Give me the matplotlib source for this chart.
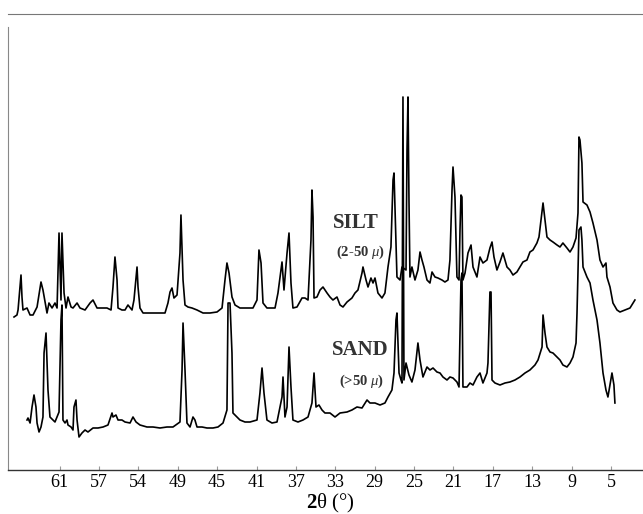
import matplotlib
matplotlib.use("Agg")
import matplotlib.pyplot as plt

plt.rcParams['font.family'] = ['Liberation Serif', 'DejaVu Serif']
plt.rcParams['mathtext.fontset'] = 'custom'
plt.rcParams['mathtext.rm'] = 'Liberation Serif'
plt.rcParams['mathtext.it'] = 'Liberation Serif:italic'
plt.rcParams['mathtext.bf'] = 'Liberation Serif:bold'

### DATA (intensity in arbitrary units)
tick_pos = [61, 57, 53, 49, 45, 41, 37, 33, 29, 25, 21, 17, 13, 9, 5]
tick_labels = ["61", "57", "54", "49", "45", "41", "37", "33", "29", "25", "21", "17", "13", "9", "5"]

silt_2theta = [
    65.62, 65.32, 65.21, 64.91, 64.81, 64.71, 64.30, 63.99, 63.69, 63.28,
    62.88, 62.68, 62.47, 62.27, 62.07, 61.76, 61.46, 61.25, 61.05, 60.85,
    60.75, 60.54, 60.34, 60.14, 59.83, 59.63, 59.22, 58.92, 58.41, 57.90,
    57.60, 57.19, 56.69, 56.18, 55.77, 55.57, 55.37, 55.16, 55.06, 54.66,
    54.35, 54.05, 53.64, 53.44, 53.13, 53.03, 52.83, 52.52, 52.02, 51.10,
    50.29, 49.99, 49.78, 49.58, 49.38, 49.07, 48.77, 48.67, 48.46, 48.26,
    47.96, 47.55, 47.04, 46.43, 45.72, 45.01, 44.50, 44.20, 44.00, 43.79,
    43.49, 43.18, 42.68, 41.97, 41.36, 40.95, 40.75, 40.54, 40.34, 39.94,
    39.43, 39.12, 38.82, 38.41, 38.21, 37.90, 37.70, 37.50, 37.30, 36.89,
    36.38, 36.08, 35.77, 35.47, 35.37, 35.26, 35.16, 34.86, 34.55, 34.25,
    33.84, 33.54, 33.24, 32.83, 32.52, 32.22, 31.81, 31.31, 31.00, 30.70,
    30.29, 30.19, 29.88, 29.68, 29.38, 29.17, 28.97, 28.67, 28.26, 27.96,
    27.65, 27.35, 27.14, 27.04, 26.84, 26.74, 26.43, 26.23, 25.82, 25.72,
    25.62, 25.52, 25.42, 25.22, 24.91, 24.61, 24.40, 24.20, 24.00, 23.69,
    23.39, 23.18, 22.88, 22.58, 22.17, 21.87, 21.56, 21.36, 21.15, 21.05,
    20.85, 20.65, 20.44, 20.34, 20.24, 20.14, 20.04, 19.83, 19.53, 19.22,
    19.02, 18.62, 18.31, 18.01, 17.60, 17.30, 17.09, 16.89, 16.59, 16.28,
    15.98, 15.57, 15.27, 14.96, 14.56, 14.25, 13.95, 13.54, 13.24, 12.93,
    12.53, 12.32, 12.12, 11.91, 11.71, 11.51, 11.20, 10.90, 10.49, 10.19,
    9.89, 9.48, 9.17, 8.87, 8.56, 8.36, 8.26, 8.16, 7.96, 7.85,
    7.45, 7.14, 6.84, 6.43, 6.13, 5.82, 5.52, 5.42, 5.11, 4.81,
    4.40, 4.10, 3.59, 3.08, 2.58,
]
silt_counts = [
    153, 155, 160, 195, 173, 160, 162, 155, 155, 163,
    188, 180, 168, 157, 167, 162, 167, 162, 237, 170,
    237, 177, 162, 173, 163, 162, 167, 162, 160, 167,
    170, 162, 162, 162, 160, 183, 213, 190, 162, 160,
    160, 165, 160, 170, 203, 183, 162, 157, 157, 157,
    157, 167, 178, 182, 172, 175, 217, 255, 190, 165,
    163, 162, 160, 157, 157, 158, 162, 190, 207, 197,
    173, 165, 162, 162, 162, 170, 220, 207, 167, 162,
    162, 162, 177, 208, 180, 217, 237, 187, 162, 163,
    172, 172, 170, 230, 280, 253, 172, 173, 180, 183,
    177, 173, 170, 173, 165, 163, 168, 172, 177, 180,
    197, 203, 190, 183, 192, 187, 192, 177, 172, 177,
    203, 223, 290, 297, 230, 193, 190, 203, 200, 320,
    373, 270, 193, 203, 190, 200, 218, 210, 203, 190,
    187, 198, 193, 192, 190, 188, 190, 210, 280, 303,
    273, 193, 190, 240, 275, 273, 190, 197, 217, 225,
    203, 193, 213, 207, 210, 222, 228, 213, 200, 208,
    217, 203, 200, 195, 198, 203, 208, 210, 218, 220,
    227, 233, 250, 267, 250, 233, 230, 228, 225, 223,
    227, 222, 218, 223, 232, 257, 333, 330, 307, 268,
    265, 258, 247, 230, 210, 203, 207, 193, 183, 167,
    160, 158, 160, 162, 170,
]

sand_2theta = [
    64.30, 64.20, 63.99, 63.79, 63.59, 63.39, 63.28, 63.08, 62.88, 62.68,
    62.57, 62.37, 62.27, 62.17, 61.97, 61.66, 61.46, 61.25, 61.05, 60.85,
    60.75, 60.65, 60.44, 60.24, 60.14, 59.83, 59.63, 59.53, 59.33, 59.22,
    59.02, 58.72, 58.41, 58.11, 57.60, 57.09, 56.58, 56.08, 55.67, 55.57,
    55.27, 55.06, 54.66, 54.35, 53.84, 53.54, 53.23, 52.83, 52.12, 51.51,
    50.80, 50.09, 49.48, 48.77, 48.56, 48.46, 48.26, 48.06, 47.75, 47.45,
    47.25, 47.04, 46.53, 46.03, 45.42, 44.91, 44.40, 44.00, 43.89, 43.69,
    43.49, 43.39, 42.98, 42.68, 42.17, 41.66, 40.95, 40.65, 40.44, 40.24,
    39.94, 39.43, 38.92, 38.41, 38.31, 38.11, 37.90, 37.70, 37.50, 37.30,
    36.79, 36.28, 35.77, 35.37, 35.16, 34.96, 34.66, 34.35, 34.05, 33.54,
    33.03, 32.52, 31.81, 31.31, 30.80, 30.29, 29.78, 29.48, 28.97, 28.46,
    27.96, 27.65, 27.25, 27.04, 26.84, 26.74, 26.53, 26.33, 26.23, 26.13,
    26.03, 25.82, 25.52, 25.22, 24.91, 24.61, 24.40, 24.10, 23.69, 23.39,
    23.08, 22.68, 22.37, 22.07, 21.66, 21.36, 21.05, 20.65, 20.44, 20.24,
    20.14, 20.04, 19.63, 19.33, 19.02, 18.62, 18.31, 18.01, 17.60, 17.50,
    17.30, 17.19, 17.09, 16.79, 16.28, 15.77, 15.27, 14.76, 14.25, 13.74,
    13.24, 12.73, 12.42, 12.01, 11.91, 11.71, 11.51, 11.20, 10.90, 10.49,
    10.19, 9.89, 9.48, 9.17, 8.87, 8.56, 8.46, 8.26, 8.06, 7.96,
    7.85, 7.45, 7.14, 6.84, 6.43, 6.13, 5.82, 5.52, 5.32, 5.11,
    4.91, 4.71, 4.61,
]
sand_counts = [
    50, 52, 47, 63, 75, 63, 47, 38, 43, 53,
    117, 137, 110, 80, 53, 50, 48, 53, 58, 150,
    165, 50, 47, 50, 45, 43, 40, 63, 70, 50,
    33, 37, 40, 38, 42, 42, 43, 45, 57, 53,
    55, 50, 50, 48, 47, 53, 48, 45, 43, 43,
    42, 43, 43, 48, 100, 147, 100, 47, 43, 53,
    50, 43, 43, 42, 42, 43, 47, 60, 167, 167,
    117, 57, 53, 50, 48, 48, 50, 77, 102, 77,
    50, 47, 48, 73, 93, 53, 63, 123, 83, 50,
    48, 50, 53, 67, 97, 63, 65, 60, 57, 57,
    53, 57, 58, 60, 63, 62, 70, 67, 67, 65,
    67, 73, 80, 97, 150, 157, 97, 90, 87, 373,
    90, 107, 95, 88, 100, 127, 110, 93, 103, 100,
    102, 98, 97, 93, 90, 93, 92, 88, 83, 190,
    197, 83, 83, 87, 85, 93, 97, 87, 97, 107,
    178, 178, 90, 87, 85, 87, 88, 90, 93, 97,
    100, 105, 110, 123, 155, 137, 123, 118, 117, 113,
    110, 105, 103, 107, 113, 127, 157, 240, 243, 230,
    203, 193, 187, 170, 150, 127, 97, 80, 73, 85,
    97, 85, 67,
]

### PLOT
fig = plt.figure(figsize=(6.43, 5.14), dpi=100)
ax = fig.add_axes([8 / 643, 44 / 514, 635 / 643, 456 / 514])

ax.plot(silt_2theta, silt_counts, color='black', lw=1.2)
ax.plot(sand_2theta, sand_counts, color='black', lw=1.2)

ax.set_xlim(66.23, 1.76)
ax.set_ylim(0, 456)

ax.set_xticks(tick_pos)
ax.set_xticklabels(tick_labels)
ax.set_yticks([])
ax.tick_params(axis='x', direction='in', length=3, color='#999999',
               labelsize=13, pad=3)

ax.spines['right'].set_visible(False)
ax.spines['top'].set_color('#777777')
ax.spines['top'].set_linewidth(0.8)
ax.spines['left'].set_color('#888888')
ax.spines['left'].set_linewidth(0.8)
ax.spines['left'].set_bounds(0, 443)
ax.spines['bottom'].set_color('#333333')
ax.spines['bottom'].set_linewidth(1.0)

ax.text(30.90, 247, "SILT", fontsize=15, fontweight='bold', color='#333333',
        ha='center', va='center')
ax.text(30.49, 218, r"(2-50 $\mu$)", fontsize=10.5, fontweight='bold',
        color='#333333', ha='center', va='center')
ax.text(30.49, 120, "SAND", fontsize=15, fontweight='bold', color='#333333',
        ha='center', va='center')
ax.text(30.29, 89, r"(>50 $\mu$)", fontsize=10.5, fontweight='bold',
        color='#333333', ha='center', va='center')

fig.text(330 / 643, 11 / 514, r"$\mathbf{2}$θ (°)", fontsize=15,
         ha='center', va='center')

fig.savefig("out.png", dpi=100)
